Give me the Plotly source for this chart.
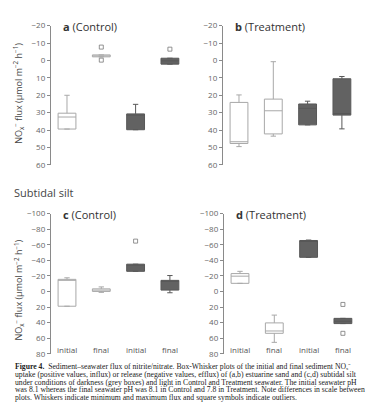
import plotly.graph_objects as go

W, H = 381, 414

categories = ["initial", "final", "initial", "final"]
# box type per category: light (white) vs dark (grey)
box_kind = ["light", "light", "dark", "dark"]

# stats per panel: [lowerfence, q1, median, q3, upperfence] for each category
panel_a = [[20, 30.3, 32.5, 39.4, 39.4],
           [-3.2, -3.2, -2.6, -2.1, -2.1],
           [25.2, 30.7, 31.4, 39.8, 39.8],
           [-1.3, -1.3, 0.2, 2.1, 2.1]]
panel_a_out = [[], [-7.7, -0.2], [], [-6.5]]

panel_b = [[19.8, 24.1, 46.7, 47.7, 49.5],
           [0.7, 22.2, 28.9, 42.2, 43.5],
           [23.4, 25.0, 27.5, 37.0, 37.0],
           [9.2, 10.5, 30.5, 31.4, 39.3]]
panel_b_out = [[], [], [], []]

panel_c = [[-17.5, -15.5, -15.0, 19.0, 19.0],
           [-5.8, -3.3, -1.7, 0.0, 1.2],
           [-35.0, -35.0, -34.2, -25.8, -25.8],
           [-20.4, -14.2, -13.3, -1.7, 1.7]]
panel_c_out = [[], [], [-64.6], []]

panel_d = [[-25.8, -22.9, -19.6, -10.4, -10.4],
           [30.4, 40.4, 50.8, 53.8, 65.4],
           [-66.0, -65.4, -65.0, -43.8, -43.8],
           [34.6, 34.6, 38.3, 41.3, 41.3]]
panel_d_out = [[], [], [], [16.7, 53.8]]

titles = ["a", "b", "c", "d"]
subtitles = ["(Control)", "(Treatment)", "(Control)", "(Treatment)"]

top_range = [60, -20]
top_ticks = [-20, -10, 0, 10, 20, 30, 40, 50, 60]
bot_range = [80, -100]
bot_ticks = [-100, -80, -60, -40, -20, 0, 20, 40, 60, 80]

caption_lines = [
    "<b>Figure 4.</b>  Sediment–seawater flux of nitrite/nitrate. Box-Whisker plots of the initial and final sediment NOₓ⁻",
    "uptake (positive values, influx) or release (negative values, efflux) of (a,b) estuarine sand and (c,d) subtidal silt",
    "under conditions of darkness (grey boxes) and light in Control and Treatment seawater. The initial seawater pH",
    "was 8.1 whereas the final seawater pH was 8.1 in Control and 7.8 in Treatment. Note differences in scale between",
    "plots. Whiskers indicate minimum and maximum flux and square symbols indicate outliers.",
]

ytitle = "NO<sub>x</sub><sup>−</sup> flux (µmol m<sup>−2</sup> h<sup>−1</sup>)"

# ---------- layout helpers (pixels -> paper) ----------
def px_x(p):
    return p / W

def px_y(p):
    return 1 - p / H

SPACING = 34.3
# panel geometry: (x of first box centre, top px, bottom px)
geo = {
    1: (59, 12, 155),
    2: (231, 12, 155),
    3: (59, 205, 349),
    4: (232, 205, 349),
}
XMIN, XMAX = -0.47, 3.55

fig = go.Figure()
panels = [(panel_a, panel_a_out), (panel_b, panel_b_out),
          (panel_c, panel_c_out), (panel_d, panel_d_out)]

light_line = "#a8a8a8"
dark_fill = "#626262"
dark_line = "#585858"
font_sans = "Open Sans"

for i, (stats, outs) in enumerate(panels, start=1):
    xa = "x" if i == 1 else f"x{i}"
    ya = "y" if i == 1 else f"y{i}"
    for j, s in enumerate(stats):
        kind = box_kind[j]
        fig.add_trace(go.Box(
            x=[j], lowerfence=[s[0]], q1=[s[1]], median=[s[2]], q3=[s[3]],
            upperfence=[s[4]],
            width=0.52, whiskerwidth=0.3,
            fillcolor="white" if kind == "light" else dark_fill,
            line=dict(color=light_line if kind == "light" else dark_line, width=1),
            xaxis=xa, yaxis=ya, showlegend=False, hoverinfo="skip",
            boxpoints=False,
        ))
        if outs[j]:
            fig.add_trace(go.Scatter(
                x=[j] * len(outs[j]), y=outs[j], mode="markers",
                marker=dict(symbol="square-open", size=4, color="#777777",
                            line=dict(width=0.8)),
                xaxis=xa, yaxis=ya, showlegend=False, hoverinfo="skip",
            ))

layout = dict(width=W, height=H, margin=dict(l=0, r=0, t=0, b=0),
              paper_bgcolor="white", plot_bgcolor="white",
              font=dict(family=font_sans, color="#555555", size=8))
annotations = []
for i in range(1, 5):
    x0, top, bot = geo[i]
    left_px = x0 + XMIN * SPACING
    right_px = x0 + XMAX * SPACING
    xk = "xaxis" if i == 1 else f"xaxis{i}"
    yk = "yaxis" if i == 1 else f"yaxis{i}"
    ya = "y" if i == 1 else f"y{i}"
    xa = "x" if i == 1 else f"x{i}"
    layout[xk] = dict(domain=[px_x(left_px), px_x(right_px)], range=[XMIN, XMAX],
                      showline=False, showgrid=False, zeroline=False,
                      showticklabels=False, ticks="", anchor=ya)
    rng = top_range if i <= 2 else bot_range
    tks = top_ticks if i <= 2 else bot_ticks
    layout[yk] = dict(domain=[px_y(bot), px_y(top)], range=rng, tickvals=tks,
                      showline=True, linecolor="#8a8a8a", linewidth=1,
                      ticks="outside", ticklen=3, tickcolor="#8a8a8a",
                      tickfont=dict(size=8, color="#666666", family=font_sans),
                      showgrid=False, zeroline=False, anchor=xa)
    # panel title
    annotations.append(dict(
        text=f"<b>{titles[i-1]}</b> {subtitles[i-1]}", xref="paper", yref="paper",
        x=px_x(x0 - 6), y=px_y(top + 1), xanchor="left", yanchor="middle",
        showarrow=False, font=dict(size=11, color="#333333", family=font_sans)))
    # category labels on bottom panels
    if i >= 3:
        for j, c in enumerate(categories):
            annotations.append(dict(
                text=c, xref=xa, yref="paper", x=j, y=px_y(bot - 4),
                xanchor="center", yanchor="middle", showarrow=False,
                font=dict(size=8, color="#555555", family=font_sans)))

# y-axis titles
annotations.append(dict(text=ytitle, xref="paper", yref="paper", x=px_x(11), y=px_y(82),
                        textangle=-90, showarrow=False, xanchor="center", yanchor="middle",
                        font=dict(size=9, color="#444444", family=font_sans)))
annotations.append(dict(text=ytitle, xref="paper", yref="paper", x=px_x(11), y=px_y(284),
                        textangle=-90, showarrow=False, xanchor="center", yanchor="middle",
                        font=dict(size=9, color="#444444", family=font_sans)))
# section title
annotations.append(dict(text="Subtidal silt", xref="paper", yref="paper", x=px_x(4), y=px_y(183),
                        xanchor="left", yanchor="middle", showarrow=False,
                        font=dict(size=11, color="#444444", family=font_sans)))
# caption
cap_y = [362.5, 370.3, 378.1, 385.9, 393.7]
for line, yy in zip(caption_lines, cap_y):
    annotations.append(dict(text=line, xref="paper", yref="paper", x=px_x(5), y=px_y(yy),
                            xanchor="left", yanchor="middle", showarrow=False,
                            font=dict(size=7.7, color="#222222", family="Liberation Serif")))

layout["annotations"] = annotations
fig.update_layout(**layout)
fig.write_html("out.html")
